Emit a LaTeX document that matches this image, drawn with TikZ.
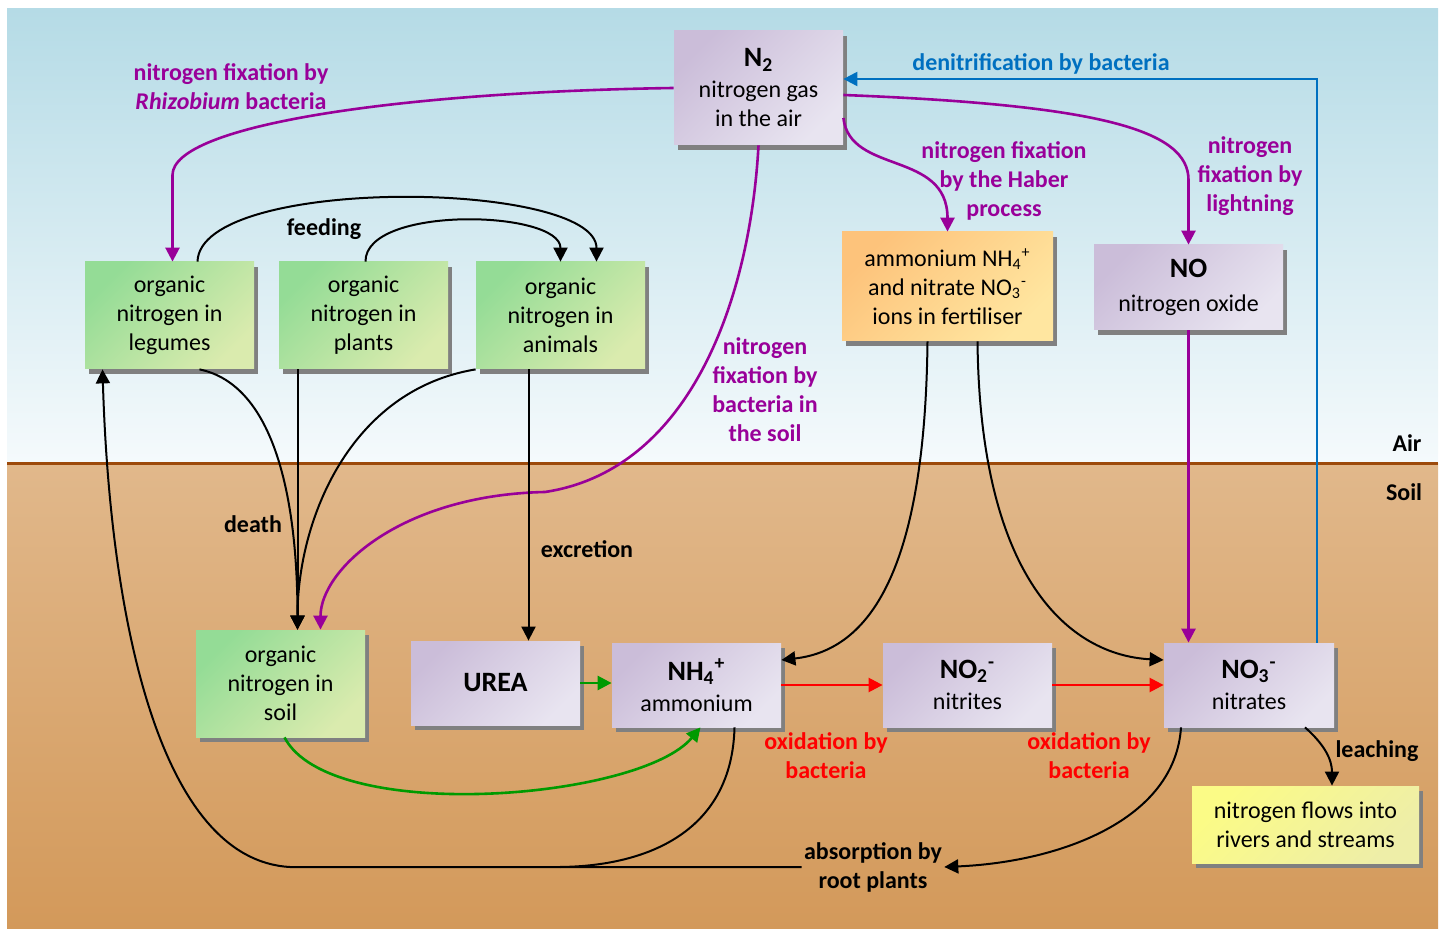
\documentclass[tikz,border=0pt]{standalone}
\usepackage{fontspec}
\setmainfont{Carlito}
\usetikzlibrary{arrows.meta}
\usetikzlibrary{shadows}

\definecolor{airtop}{HTML}{B5DBE6}
\definecolor{airbot}{HTML}{F5FAFC}
\definecolor{soiltop}{HTML}{E1B88B}
\definecolor{soilbot}{HTML}{D3995A}
\definecolor{groundline}{HTML}{9C4A0B}
\definecolor{lilacdark}{HTML}{CBBDD9}
\definecolor{lilaclight}{HTML}{E8E4F0}
\definecolor{leafdark}{HTML}{94DC96}
\definecolor{leaflight}{HTML}{DAEBAE}
\definecolor{fertdark}{HTML}{FDC37B}
\definecolor{fertlight}{HTML}{FFE6A0}
\definecolor{riverdark}{HTML}{FBFB86}
\definecolor{riverlight}{HTML}{EEEEA8}
\definecolor{boxshadow}{HTML}{808080}
\definecolor{fixpurple}{HTML}{990099}
\definecolor{denitblue}{HTML}{0070C0}
\definecolor{oxired}{HTML}{FF0000}
\definecolor{soilgreen}{HTML}{009A00}

\tikzset{
  box/.style={inner sep=0pt, align=center, font=\fontsize{12}{14.5}\selectfont,
    drop shadow={shadow xshift=2pt, shadow yshift=-2.5pt, fill=boxshadow, opacity=1}},
  gasbox/.style={box, top color=lilacdark, bottom color=lilaclight, shading angle=45},
  leafbox/.style={box, top color=leafdark, bottom color=leaflight, shading angle=45},
  fertbox/.style={box, top color=fertdark, bottom color=fertlight, shading angle=45},
  riverbox/.style={box, top color=riverdark, bottom color=riverlight, shading angle=45},
  lab/.style={font=\fontsize{12}{14.5}\selectfont\bfseries, align=center, inner sep=1pt},
  arr/.style={-{Triangle[length=7pt,width=7pt]}},
  blk/.style={draw=black, line width=1pt, arr},
  fixline/.style={draw=fixpurple, line width=1.3pt, arr},
  denit/.style={draw=denitblue, line width=1.1pt, arr},
  oxid/.style={draw=oxired, line width=1.2pt, arr},
  decay/.style={draw=soilgreen, line width=1.3pt, arr}
}

\begin{document}
\begin{tikzpicture}[x=0.5pt,y=-0.5pt]
\useasboundingbox (0,0) rectangle (1444,929);
\fill[top color=airtop, bottom color=airbot] (7,9) rectangle (1438,464);
\fill[top color=soiltop, bottom color=soilbot] (7,464) rectangle (1438,929);
\draw[line width=1.5pt, groundline] (7,464) -- (1438,464);

\node[lab] (air)  at (1407,443) {Air};
\node[lab] (soilname) at (1404,492) {Soil};

\node[gasbox, minimum width=84.5pt, minimum height=57pt] (n2) at (758.5,88)
  {{\fontsize{14}{16}\selectfont\bfseries N\textsubscript{2}}\\[1pt] nitrogen gas\\ in the air};
\node[fertbox, minimum width=105.5pt, minimum height=54.5pt] (fert) at (947.5,286.5)
  {ammonium NH\textsubscript{4}\textsuperscript{+}\\ and nitrate NO\textsubscript{3}\textsuperscript{-}\\ ions in fertiliser};
\node[gasbox, minimum width=94.5pt, minimum height=42.5pt] (no) at (1188.5,287.5)
  {{\fontsize{14}{16}\selectfont\bfseries NO}\\[2.5pt] nitrogen oxide};

\node[leafbox, minimum width=84.5pt, minimum height=53.5pt] (leg) at (169.5,315.5) {organic\\ nitrogen in\\ legumes};
\node[leafbox, minimum width=84.5pt, minimum height=53.5pt] (pla) at (363.5,315.5) {organic\\ nitrogen in\\ plants};
\node[leafbox, minimum width=84.5pt, minimum height=53.5pt] (ani) at (560.5,315.5) {organic\\ nitrogen in\\ animals};
\node[leafbox, minimum width=84.5pt, minimum height=53.5pt] (soil) at (280.5,683.5) {organic\\ nitrogen in\\ soil};

\node[gasbox, minimum width=84.5pt, minimum height=42pt] (urea) at (495.5,683)
  {{\fontsize{14}{16}\selectfont\bfseries UREA}};
\node[gasbox, minimum width=84.5pt, minimum height=42pt] (nh) at (696.5,685)
  {{\fontsize{14}{16}\selectfont\bfseries NH\textsubscript{4}\textsuperscript{+}}\\[1pt] ammonium};
\node[gasbox, minimum width=84.5pt, minimum height=42pt] (nitri) at (967.5,685)
  {{\fontsize{14}{16}\selectfont\bfseries NO\textsubscript{2}\textsuperscript{-}}\\[1pt] nitrites};
\node[gasbox, minimum width=85pt, minimum height=42pt] (nitra) at (1249,685)
  {{\fontsize{14}{16}\selectfont\bfseries NO\textsubscript{3}\textsuperscript{-}}\\[1pt] nitrates};
\node[riverbox, minimum width=113.5pt, minimum height=38.5pt] (riv) at (1305.5,824.5)
  {nitrogen flows into\\ rivers and streams};

% labels
\node[lab, text=fixpurple] (rhizo) at (231,87) {nitrogen fixation by\\ \textit{Rhizobium} bacteria};
\node[lab, text=denitblue] (denitlab) at (1041,64) {denitrification by bacteria};
\node[lab, text=fixpurple] (haber) at (1004,181) {nitrogen fixation\\ by the Haber\\ process};
\node[lab, text=fixpurple] (light) at (1250,176) {nitrogen\\ fixation by\\ lightning};
\node[lab, text=fixpurple] (soilfix) at (765,390) {nitrogen\\ fixation by\\ bacteria in\\ the soil};
\node[lab] (feed) at (324,229) {feeding};
\node[lab] (death) at (253,524) {death};
\node[lab] (excr) at (587,549) {excretion};
\node[lab, text=oxired] (oxa) at (826,756) {oxidation by\\ bacteria};
\node[lab, text=oxired] (oxb) at (1089,756) {oxidation by\\ bacteria};
\node[lab] (leach) at (1377,751) {leaching};
\node[lab] (absorb) at (873,867) {absorption by\\ root plants};

\coordinate (bend) at (290,867);
\coordinate (join) at (560,867);

% fixation
\draw[fixline] (n2.west) .. controls (400,92) and (172.5,125) .. (172.5,175) -- ([xshift=1.5pt]leg.north);
\draw[fixline] ([yshift=-15pt]n2.east) .. controls (850,175) and (947.5,150) .. (fert.north);
\draw[fixline] ([yshift=-3.5pt]n2.east) .. controls (1100,105) and (1188.5,130) .. (1188.5,180) -- (no.north);
\draw[fixline] (n2.south) .. controls (750,300) and (690,470) .. (545,492)
  .. controls (400,495) and (320.5,570) .. ([xshift=20pt]soil.north);
\draw[fixline] (no.south) -- (no.south |- nitra.north);
\draw[denit] ([xshift=34pt]nitra.north) |- ([yshift=4.5pt]n2.east);

% feeding, death, excretion
\draw[blk] ([xshift=14pt]leg.north) .. controls (200,175) and (596.5,180) .. ([xshift=18pt]ani.north);
\draw[blk] ([xshift=1pt]pla.north) .. controls (365,205) and (560.5,210) .. (ani.north);
\draw[blk] ([xshift=15pt]leg.south) .. controls (275,385) and (297.5,500) .. ([xshift=8.5pt]soil.north);
\draw[blk] ([xshift=-33pt]pla.south) -- ([xshift=8.5pt]soil.north);
\draw[blk] (ani.south west) .. controls (350,390) and (297.5,520) .. ([xshift=8.5pt]soil.north);
\draw[blk] ([xshift=-16pt]ani.south) -- ([xshift=-16pt]ani.south |- urea.north);

% soil processes
\draw[decay] (urea.east) -- (nh.west |- urea.east);
\draw[decay] ([xshift=2pt]soil.south) .. controls (330,825) and (640,800) .. ([xshift=2pt]nh.south);
\draw[oxid] (nh.east) -- (nitri.west);
\draw[oxid] (nitri.east) -- (nitra.west);
\draw[blk] ([xshift=-10pt]fert.south) .. controls (925,570) and (870,650) .. ([yshift=12.5pt]nh.east);
\draw[blk] ([xshift=15pt]fert.south) .. controls (980,580) and (1070,655) .. ([yshift=12.5pt]nitra.west);
\draw[blk] ([xshift=-34pt]nitra.south) .. controls (1175,820) and (1060,862) .. (absorb.east);
\draw[blk] (absorb.west) -- (bend) .. controls (160,860) and (110,620) .. ([xshift=-33.5pt]leg.south);
\draw[draw=black, line width=1pt] ([xshift=19pt]nh.south) .. controls (732,830) and (650,866) .. (join);
\draw[blk] ([xshift=28pt]nitra.south) .. controls (1325,745) and (1332,760) .. ([xshift=13.25pt]riv.north);
\end{tikzpicture}
\end{document}
